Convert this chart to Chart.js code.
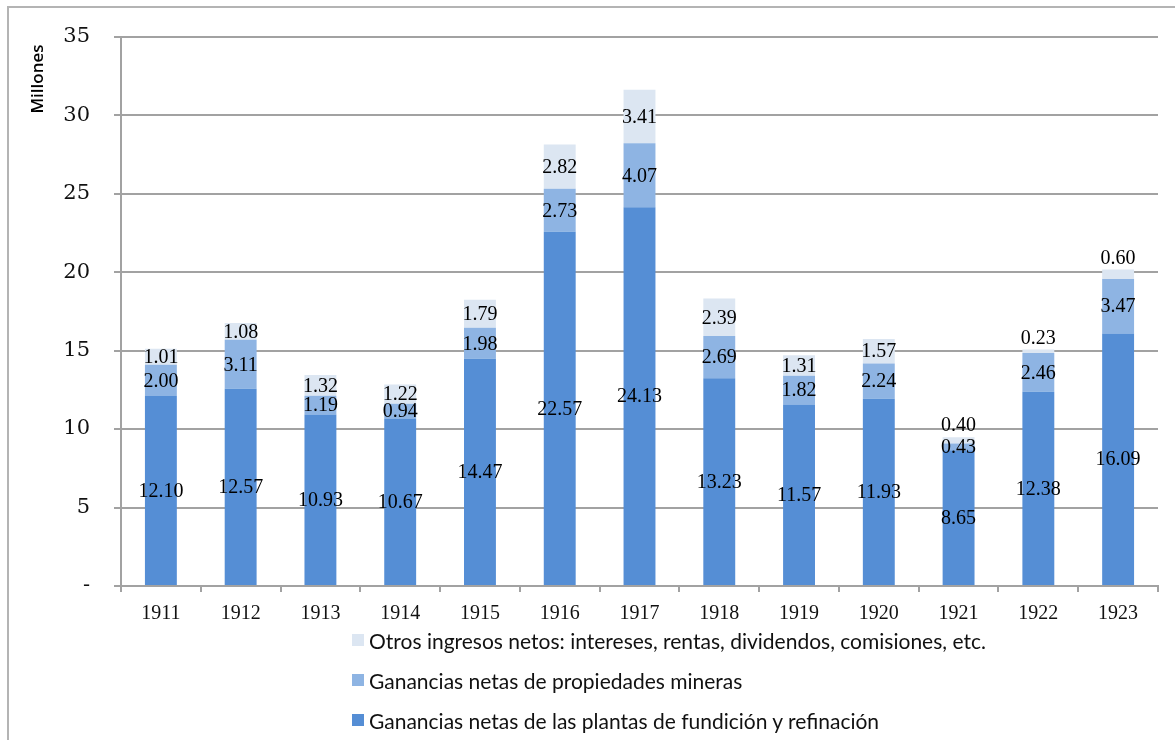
<!DOCTYPE html>
<html lang="es">
<head>
<meta charset="utf-8">
<title>Ganancias netas 1911-1923</title>
<script src="https://cdn.jsdelivr.net/npm/chart.js@4.4.1/dist/chart.umd.min.js"></script>
<style>
  html, body { margin: 0; padding: 0; background: #fff; overflow: hidden; }
  #wrap { position: relative; width: 1175px; height: 740px; }
  #frame { position: absolute; left: 7px; top: 6px; width: 1200px; height: 800px;
           border: 2px solid #b4b4b4; box-sizing: border-box; pointer-events: none; }
  canvas { position: absolute; left: 0; top: 0; }
  #legend { position: absolute; left: 352px; top: 620px; font-family: Lato, "Noto Sans", sans-serif;
            font-size: 21px; color: #111; }
  #legend .row { display: flex; align-items: center; height: 40px; }
  #legend .sw { width: 12px; height: 12px; margin-right: 5px; flex: none; }
</style>
</head>
<body>
<div id="wrap">
  <div id="frame"></div>
  <canvas id="c" width="1175" height="740"></canvas>
  <div id="legend"></div>
</div>
<script>
// Años
const years = ['1911','1912','1913','1914','1915','1916','1917','1918','1919','1920','1921','1922','1923'];

// Millones de dólares por año
const fundicion = [12.10, 12.57, 10.93, 10.67, 14.47, 22.57, 24.13, 13.23, 11.57, 11.93, 8.65, 12.38, 16.09];
const mineras   = [2.00, 3.11, 1.19, 0.94, 1.98, 2.73, 4.07, 2.69, 1.82, 2.24, 0.43, 2.46, 3.47];
const otros     = [1.01, 1.08, 1.32, 1.22, 1.79, 2.82, 3.41, 2.39, 1.31, 1.57, 0.40, 0.23, 0.60];

const seriesNames = [
  'Ganancias netas de las plantas de fundición y refinación',
  'Ganancias netas de propiedades mineras',
  'Otros ingresos netos: intereses, rentas, dividendos, comisiones, etc.'
];
const seriesColors = ['#558ed5', '#8eb4e3', '#dce6f2'];

// Y-axis tick labels (0 is shown as a dash)
const yTickLabels = { 0: '-', 5: '5', 10: '10', 15: '15', 20: '20', 25: '25', 30: '30', 35: '35' };

const gridColor = '#a2a2a2';

// Value labels centred in each segment; thin top segments get their label just above the bar
const segmentLabels = {
  id: 'segmentLabels',
  afterDatasetsDraw(chart) {
    const ctx = chart.ctx;
    ctx.save();
    ctx.font = '20px "Liberation Serif", "Times New Roman", serif';
    ctx.fillStyle = '#000';
    ctx.textAlign = 'center';
    ctx.textBaseline = 'middle';
    const last = chart.data.datasets.length - 1;
    chart.data.datasets.forEach((ds, di) => {
      const meta = chart.getDatasetMeta(di);
      meta.data.forEach((bar, i) => {
        const v = ds.data[i];
        const h = Math.abs(bar.base - bar.y);
        let y = (bar.y + bar.base) / 2;
        if (di === last && h < 10) y = bar.y - 12;
        ctx.fillText(v.toFixed(2), bar.x, y + 1);
      });
    });
    ctx.restore();
  }
};

// Rotated axis title near the top of the value axis
const axisTitle = {
  id: 'axisTitle',
  afterDraw(chart) {
    const ctx = chart.ctx;
    ctx.save();
    ctx.translate(38, 79);
    ctx.rotate(-Math.PI / 2);
    ctx.font = '600 17px "Open Sans", "Liberation Sans", sans-serif';
    ctx.fillStyle = '#000';
    ctx.textAlign = 'center';
    ctx.textBaseline = 'middle';
    ctx.fillText('Millones', 0, 0);
    ctx.restore();
  }
};

const chart = new Chart(document.getElementById('c'), {
  type: 'bar',
  data: {
    labels: years,
    datasets: [
      { label: seriesNames[0], data: fundicion, backgroundColor: seriesColors[0] },
      { label: seriesNames[1], data: mineras,   backgroundColor: seriesColors[1] },
      { label: seriesNames[2], data: otros,     backgroundColor: seriesColors[2] }
    ]
  },
  options: {
    responsive: false,
    animation: false,
    devicePixelRatio: 1,
    layout: { padding: { top: 34, right: 17, bottom: 0, left: 0 } },
    datasets: { bar: { barPercentage: 0.4, categoryPercentage: 1.0, borderWidth: 0 } },
    plugins: { legend: { display: false }, tooltip: { enabled: false } },
    scales: {
      x: {
        stacked: true,
        afterFit(scale) { scale.height = 154; },
        grid: { offset: true, drawOnChartArea: false, drawTicks: true, tickLength: 6,
                color: gridColor, lineWidth: 2 },
        border: { color: gridColor, width: 2 },
        ticks: { color: '#111', padding: 10, maxRotation: 0,
                 font: { family: '"Liberation Serif", "Times New Roman", serif', size: 20 } }
      },
      y: {
        stacked: true,
        min: 0, max: 35,
        afterFit(scale) { scale.width = 121; },
        grid: { color: gridColor, lineWidth: 2, tickLength: 7 },
        border: { color: gridColor, width: 2 },
        ticks: {
          stepSize: 5, padding: 24, color: '#111',
          font: { family: '"DejaVu Serif", serif', size: 21 },
          callback: (v) => yTickLabels[v] ?? String(v)
        }
      }
    }
  },
  plugins: [segmentLabels, axisTitle]
});

// Legend: top series first, stacked vertically
const legend = document.getElementById('legend');
chart.data.datasets.slice().reverse().forEach(ds => {
  const row = document.createElement('div');
  row.className = 'row';
  const sw = document.createElement('span');
  sw.className = 'sw';
  sw.style.background = ds.backgroundColor;
  const tx = document.createElement('span');
  tx.textContent = ds.label;
  row.appendChild(sw);
  row.appendChild(tx);
  legend.appendChild(row);
});
</script>
</body>
</html>
